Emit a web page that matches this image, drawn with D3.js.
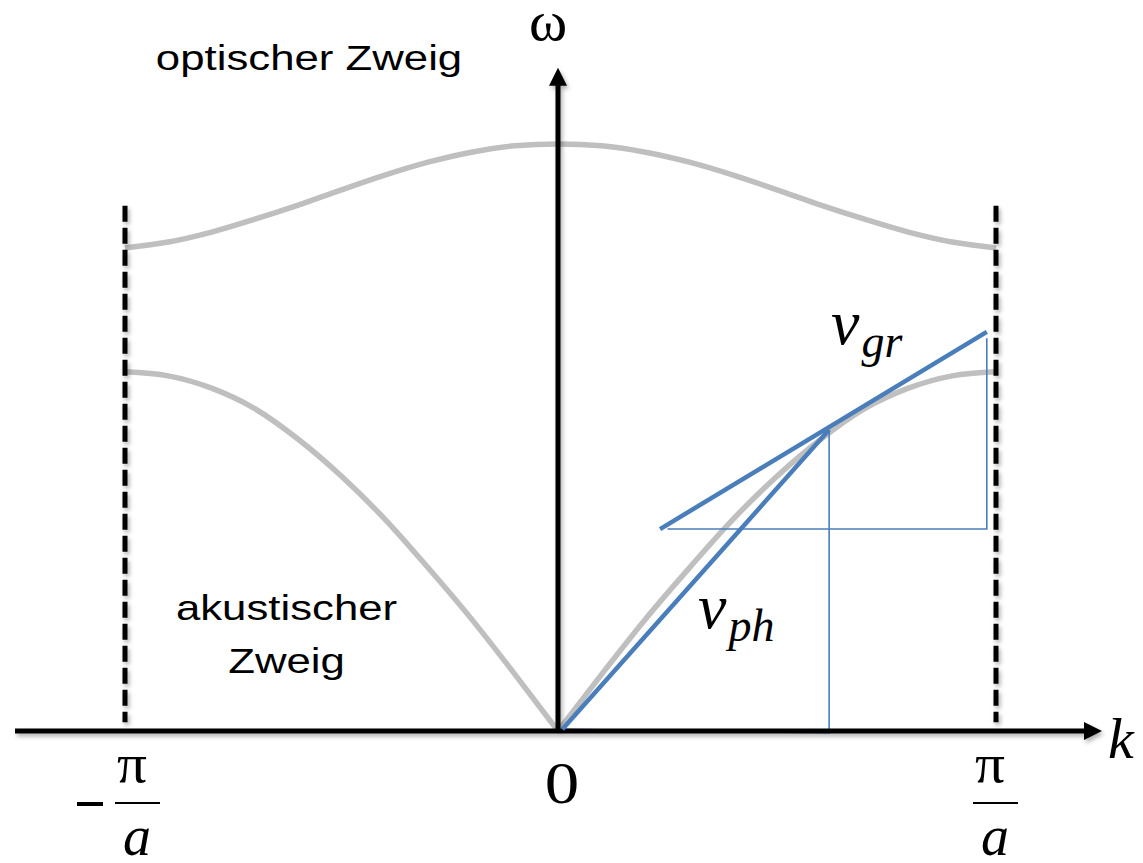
<!DOCTYPE html>
<html>
<head>
<meta charset="utf-8">
<script src="https://cdn.jsdelivr.net/npm/d3@7"></script>
<style>
  body { margin: 0; background: #fff; }
  svg { display: block; }
</style>
</head>
<body>
<svg id="chart" width="1143" height="863"></svg>
<script>
// k in units of pi/a, omega normalised to the top of the optical branch
var kSamples      = [0, 0.1, 0.2, 0.3, 0.4, 0.5, 0.6, 0.7, 0.8, 0.9, 1.0];
var opticalOmega  = [1.000, 0.997, 0.986, 0.969, 0.947, 0.922, 0.896, 0.872, 0.850, 0.833, 0.823];
var acousticOmega = [0, 0.097, 0.191, 0.278, 0.361, 0.434, 0.497, 0.549, 0.584, 0.605, 0.612];

// tangent construction on the right acoustic branch
var phaseLine     = [[0.01, 0.003], [0.619, 0.513]];
var groupLine     = [[0.233, 0.344], [0.979, 0.680]];
var phaseTriangle = [[0.01, 0.003], [0.619, -0.003], [0.619, 0.513]];
var groupTriangle = [[0.25, 0.344], [0.979, 0.344], [0.979, 0.669]];

var kExtent = [-1.254, 1.242];
var omegaTop = 1.13;
var zoneEdges = [-1, 1];
var dashTop = 0.895, dashBottom = 0.015;

var branchLabels = [
    {lines: ["optischer Zweig"], k: -0.575, w: 1.126},
    {lines: ["akustischer", "Zweig"], k: -0.627, w: 0.189}
];

var svg = d3.select("#chart");

var x = d3.scaleLinear().domain([-1, 0, 1]).range([125, 558, 996]);
var y = d3.scaleLinear().domain([0, 1]).range([731, 144]);

var defs = svg.append("defs");
defs.append("filter")
    .attr("id", "shadow")
    .attr("filterUnits", "userSpaceOnUse")
    .attr("x", 0).attr("y", 0)
    .attr("width", 1143).attr("height", 863)
    .append("feDropShadow")
    .attr("dx", 2).attr("dy", 3)
    .attr("stdDeviation", 2)
    .attr("flood-color", "#000")
    .attr("flood-opacity", 0.3);

var gray = "#bfbfbf";
var blue = "#4a7ebb";

// dispersion branches
var line = d3.line()
    .x(function(d) { return x(d[0]); })
    .y(function(d) { return y(d[1]); })
    .curve(d3.curveMonotoneX);

var optical = [];
kSamples.slice().reverse().forEach(function(k, i) {
    optical.push([-k, opticalOmega[kSamples.length - 1 - i]]);
});
kSamples.forEach(function(k, i) {
    if (k > 0) optical.push([k, opticalOmega[i]]);
});
var acousticLeft = kSamples.map(function(k, i) { return [-k, acousticOmega[i]]; }).reverse();
var acousticRight = kSamples.map(function(k, i) { return [k, acousticOmega[i]]; });

svg.selectAll("path.branch")
    .data([optical, acousticLeft, acousticRight])
    .enter()
    .append("path")
    .classed("branch", true)
    .attr("d", line)
    .attr("fill", "none")
    .attr("stroke", gray)
    .attr("stroke-width", 5.5);

// zone boundaries
svg.selectAll("line.zone")
    .data(zoneEdges)
    .enter()
    .append("line")
    .classed("zone", true)
    .attr("x1", function(d) { return x(d); })
    .attr("x2", function(d) { return x(d); })
    .attr("y1", y(dashTop))
    .attr("y2", y(dashBottom))
    .attr("stroke", "#000")
    .attr("stroke-width", 5)
    .attr("stroke-dasharray", "16,6")
    .attr("filter", "url(#shadow)");

// thin helper triangles
var straight = d3.line()
    .x(function(d) { return x(d[0]); })
    .y(function(d) { return y(d[1]); });

svg.selectAll("path.tri")
    .data([phaseTriangle, groupTriangle])
    .enter()
    .append("path")
    .classed("tri", true)
    .attr("d", straight)
    .attr("fill", "none")
    .attr("stroke", blue)
    .attr("stroke-width", 1.6);

// axes
var axes = svg.append("g").attr("filter", "url(#shadow)");
axes.append("line")
    .attr("x1", x(kExtent[0])).attr("x2", x(kExtent[1]) - 16)
    .attr("y1", y(0)).attr("y2", y(0))
    .attr("stroke", "#000").attr("stroke-width", 5);
axes.append("path")
    .attr("d", "M" + x(kExtent[1]) + "," + y(0) +
               "L" + (x(kExtent[1]) - 18) + "," + (y(0) - 9) +
               "L" + (x(kExtent[1]) - 18) + "," + (y(0) + 9) + "Z")
    .attr("fill", "#000");
axes.append("line")
    .attr("x1", x(0)).attr("x2", x(0))
    .attr("y1", y(0) + 2).attr("y2", y(omegaTop) + 16)
    .attr("stroke", "#000").attr("stroke-width", 5);
axes.append("path")
    .attr("d", "M" + x(0) + "," + y(omegaTop) +
               "L" + (x(0) - 9) + "," + (y(omegaTop) + 18) +
               "L" + (x(0) + 9) + "," + (y(omegaTop) + 18) + "Z")
    .attr("fill", "#000");

// phase and group velocity lines
svg.selectAll("path.vel")
    .data([phaseLine, groupLine])
    .enter()
    .append("path")
    .classed("vel", true)
    .attr("d", straight)
    .attr("fill", "none")
    .attr("stroke", blue)
    .attr("stroke-width", 4.5);

// branch labels (the original text is a little stretched sideways)
branchLabels.forEach(function(b) {
    b.lines.forEach(function(t, i) {
        svg.append("text")
            .attr("transform", "translate(" + x(b.k) + "," + (y(b.w) + i * 53) + ") scale(1.25,1)")
            .attr("text-anchor", "middle")
            .attr("font-family", "Liberation Sans, Arial, sans-serif")
            .attr("font-size", 35)
            .text(t);
    });
});

var serif = "Liberation Serif, Times New Roman, serif";

// axis titles
svg.append("text")
    .attr("x", x(0) - 10).attr("y", 40)
    .attr("text-anchor", "middle")
    .attr("font-family", serif).attr("font-size", 58)
    .text("ω");
svg.append("text")
    .attr("x", 1108).attr("y", 758)
    .attr("font-family", serif).attr("font-size", 58)
    .attr("font-style", "italic")
    .text("k");
svg.append("text")
    .attr("transform", "translate(" + (x(0) + 4) + ",803) scale(1.15,1)")
    .attr("text-anchor", "middle")
    .attr("font-family", serif).attr("font-size", 60)
    .text("0");

// pi / a fractions at the zone boundaries
function fraction(cx, negative) {
    var g = svg.append("g");
    g.append("text")
        .attr("transform", "translate(" + (cx - 5) + ",782) scale(1.1,1)")
        .attr("text-anchor", "middle")
        .attr("font-family", serif).attr("font-size", 54)
        .text("π");
    g.append("line")
        .attr("x1", cx - 22).attr("x2", cx + 23)
        .attr("y1", 803).attr("y2", 803)
        .attr("stroke", "#000").attr("stroke-width", 2.2);
    g.append("text")
        .attr("x", cx).attr("y", 855)
        .attr("text-anchor", "middle")
        .attr("font-family", serif).attr("font-size", 56)
        .attr("font-style", "italic")
        .text("a");
    if (negative) {
        g.append("line")
            .attr("x1", cx - 60).attr("x2", cx - 34)
            .attr("y1", 804).attr("y2", 804)
            .attr("stroke", "#000").attr("stroke-width", 4);
    }
}
fraction(x(1) - 1, false);
fraction(x(-1) + 12, true);

// velocity labels
function velLabel(px, py, sub) {
    var t = svg.append("text")
        .attr("x", px).attr("y", py)
        .attr("font-family", serif)
        .attr("font-style", "italic")
        .attr("font-size", 64);
    t.append("tspan").text("v");
    t.append("tspan")
        .attr("font-size", 46)
        .attr("dy", 13)
        .attr("dx", 2)
        .text(sub);
}
velLabel(698, 628, "ph");
velLabel(831, 344, "gr");
</script>
</body>
</html>
